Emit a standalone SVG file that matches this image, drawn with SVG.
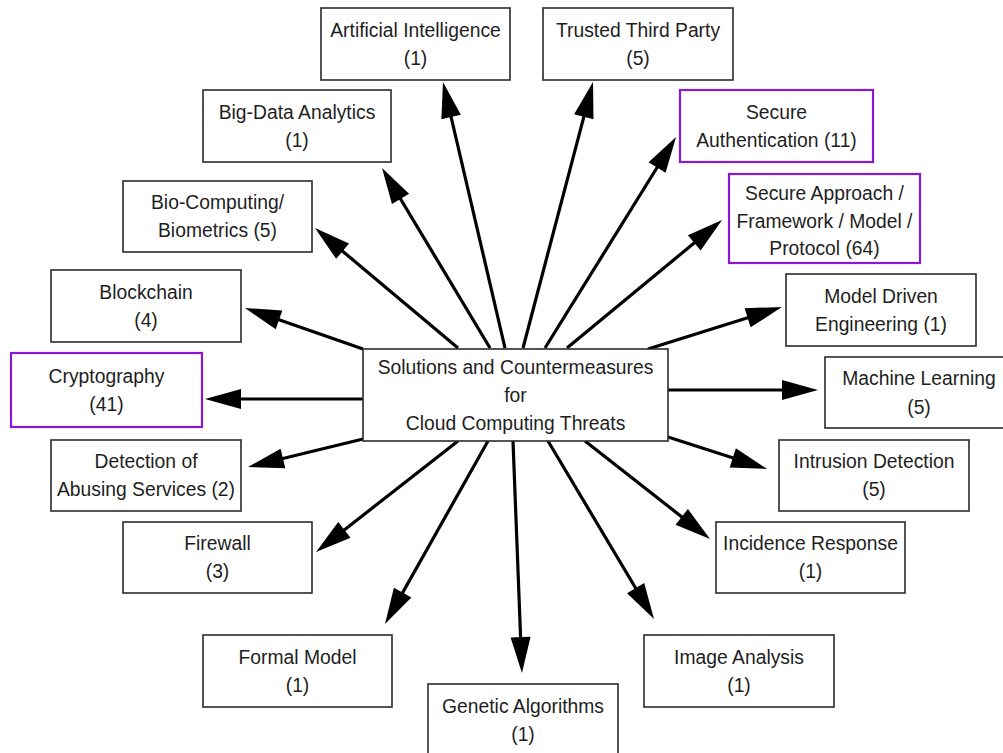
<svg xmlns="http://www.w3.org/2000/svg" width="1003" height="753" viewBox="0 0 1003 753">
<style>
.box{fill:#fff;stroke:#2a2a2a;stroke-width:1.6}
.hl{fill:#fff;stroke:#8a17d8;stroke-width:2.2}
text{font-family:"Liberation Sans",Arial,sans-serif;font-size:21px;fill:#1e1e1e;text-anchor:middle}
.c line{stroke:#000;stroke-width:3.2;marker-end:url(#ah)}
</style>
<defs>
<marker id="ah" markerUnits="userSpaceOnUse" markerWidth="36" markerHeight="20" refX="16" refY="10" orient="auto" overflow="visible">
<path d="M0,0 L36,10 L0,20 z" fill="#000"/>
</marker>
</defs>
<rect width="1003" height="753" fill="#fff"/>
<g id="connectors" class="c">
<line x1="363" y1="349" x2="263.9" y2="314.6"/>
<line x1="458" y1="348" x2="330.3" y2="240.9"/>
<line x1="490" y1="348" x2="392.3" y2="185.2"/>
<line x1="505" y1="348" x2="447.5" y2="101.5"/>
<line x1="523" y1="348" x2="587.9" y2="101.3"/>
<line x1="545" y1="348" x2="665.5" y2="154"/>
<line x1="567" y1="348" x2="706.6" y2="232.7"/>
<line x1="648" y1="349" x2="762.9" y2="313"/>
<line x1="668" y1="390" x2="798" y2="390"/>
<line x1="668" y1="437" x2="748" y2="462.8"/>
<line x1="585" y1="441" x2="694.3" y2="526.7"/>
<line x1="548" y1="441" x2="643.8" y2="601.8"/>
<line x1="513" y1="441" x2="521.2" y2="653"/>
<line x1="488" y1="441" x2="394.8" y2="606.6"/>
<line x1="458" y1="441" x2="331.8" y2="539.7"/>
<line x1="363" y1="439" x2="267.4" y2="462.3"/>
<line x1="363" y1="399" x2="225" y2="399"/>
</g>
<g id="center">
<rect class="box" x="363" y="349" width="305" height="92"/>
<g transform="translate(515.5,0) scale(0.92,1)">
<text x="0" y="374">Solutions and Countermeasures</text>
<text x="0" y="402">for</text>
<text x="0" y="430">Cloud Computing Threats</text>
</g>
</g>
<g id="ai">
<rect class="box" x="321" y="8" width="189" height="72"/>
<g transform="translate(415.5,0) scale(0.92,1)">
<text x="0" y="37">Artificial Intelligence</text>
<text x="0" y="65">(1)</text>
</g>
</g>
<g id="ttp">
<rect class="box" x="543" y="8" width="190" height="72"/>
<g transform="translate(638,0) scale(0.92,1)">
<text x="0" y="37">Trusted Third Party</text>
<text x="0" y="65">(5)</text>
</g>
</g>
<g id="secauth">
<rect class="hl" x="680" y="90" width="193" height="72"/>
<g transform="translate(776.5,0) scale(0.92,1)">
<text x="0" y="119">Secure</text>
<text x="0" y="147">Authentication (11)</text>
</g>
</g>
<g id="bigdata">
<rect class="box" x="203" y="90" width="188" height="72"/>
<g transform="translate(297,0) scale(0.92,1)">
<text x="0" y="119">Big-Data Analytics</text>
<text x="0" y="147">(1)</text>
</g>
</g>
<g id="bio">
<rect class="box" x="123" y="181" width="189" height="71"/>
<g transform="translate(217.5,0) scale(0.92,1)">
<text x="0" y="209">Bio-Computing/</text>
<text x="0" y="237">Biometrics (5)</text>
</g>
</g>
<g id="secapproach">
<rect class="hl" x="729" y="174" width="191" height="89"/>
<g transform="translate(824.5,0) scale(0.92,1)">
<text x="0" y="200">Secure Approach /</text>
<text x="0" y="228">Framework / Model /</text>
<text x="0" y="255">Protocol (64)</text>
</g>
</g>
<g id="blockchain">
<rect class="box" x="51" y="270" width="190" height="72"/>
<g transform="translate(146,0) scale(0.92,1)">
<text x="0" y="299">Blockchain</text>
<text x="0" y="327">(4)</text>
</g>
</g>
<g id="mde">
<rect class="box" x="786" y="274" width="190" height="72"/>
<g transform="translate(881,0) scale(0.92,1)">
<text x="0" y="303">Model Driven</text>
<text x="0" y="331">Engineering (1)</text>
</g>
</g>
<g id="crypto">
<rect class="hl" x="11" y="353" width="191" height="74"/>
<g transform="translate(106.5,0) scale(0.92,1)">
<text x="0" y="383">Cryptography</text>
<text x="0" y="411">(41)</text>
</g>
</g>
<g id="ml">
<rect class="box" x="825" y="357" width="195" height="71"/>
<g transform="translate(919,0) scale(0.92,1)">
<text x="0" y="385">Machine Learning</text>
<text x="0" y="414">(5)</text>
</g>
</g>
<g id="detection">
<rect class="box" x="51" y="440" width="190" height="71"/>
<g transform="translate(146,0) scale(0.92,1)">
<text x="0" y="468.5">Detection of</text>
<text x="0" y="496.5">Abusing Services (2)</text>
</g>
</g>
<g id="intrusion">
<rect class="box" x="779" y="440" width="190" height="71"/>
<g transform="translate(874,0) scale(0.92,1)">
<text x="0" y="468.5">Intrusion Detection</text>
<text x="0" y="496.5">(5)</text>
</g>
</g>
<g id="firewall">
<rect class="box" x="123" y="522" width="189" height="71"/>
<g transform="translate(217.5,0) scale(0.92,1)">
<text x="0" y="550.5">Firewall</text>
<text x="0" y="578.5">(3)</text>
</g>
</g>
<g id="incidence">
<rect class="box" x="716" y="522" width="189" height="71"/>
<g transform="translate(810.5,0) scale(0.92,1)">
<text x="0" y="550.5">Incidence Response</text>
<text x="0" y="578.5">(1)</text>
</g>
</g>
<g id="formal">
<rect class="box" x="203" y="635" width="189" height="72"/>
<g transform="translate(297.5,0) scale(0.92,1)">
<text x="0" y="664">Formal Model</text>
<text x="0" y="692">(1)</text>
</g>
</g>
<g id="image">
<rect class="box" x="644" y="635" width="190" height="72"/>
<g transform="translate(739,0) scale(0.92,1)">
<text x="0" y="664">Image Analysis</text>
<text x="0" y="692">(1)</text>
</g>
</g>
<g id="genetic">
<rect class="box" x="428" y="684" width="190" height="72"/>
<g transform="translate(523,0) scale(0.92,1)">
<text x="0" y="713">Genetic Algorithms</text>
<text x="0" y="741">(1)</text>
</g>
</g>
</svg>
